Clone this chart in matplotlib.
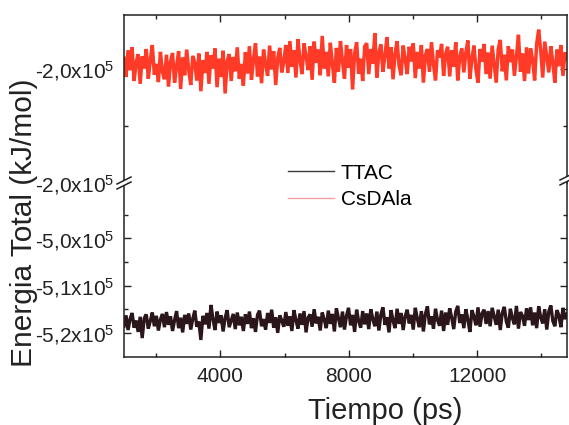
import numpy as np
import matplotlib
matplotlib.use('Agg')
import matplotlib.pyplot as plt
from matplotlib.lines import Line2D
from matplotlib.patches import Rectangle
from matplotlib.ticker import FixedLocator, FixedFormatter

plt.rcParams['font.family'] = ['Liberation Sans', 'DejaVu Sans']
plt.rcParams['mathtext.fontset'] = 'custom'
plt.rcParams['mathtext.rm'] = 'Liberation Sans'
plt.rcParams['mathtext.it'] = 'Liberation Sans:italic'
plt.rcParams['mathtext.bf'] = 'Liberation Sans:bold'

# ---------------- data ----------------
t_start, t_end = 1000, 14800          # Tiempo (ps)

csdala_mean = -199930                  # kJ/mol
csdala_fluct = [
    120, -210, 260, -90, 310, -280, 40, 190, -330, 150, -60, 280, -240, 90, 350, -170, 20, -300, 230, -120,
    -250, 180, -380, 60, 210, -310, -20, 240, -420, 130, -180, 270, -90, -350, 160, 40, -270, 200, -460, 80,
    -140, 230, -330, 170, -60, 290, -390, 110, -210, 250, -500, 70, 190, -280, 140, -110, 310, -240, 20, -360,
    220, -150, 330, -260, 90, 380, -200, 150, -320, 270, 10, -190, 340, -80, 240, -350, 120, 300, -130, 60,
    350, -140, 420, -30, 260, -220, 450, 90, -160, 380, 160, -90, 330, -260, 410, 40, 270, -180, 510, -60,
    230, -200, 390, 20, -310, 300, -120, 420, 60, -240, 350, -50, 280, -430, 200, 400, -150, 110, -280, 330,
    380, -160, 280, 20, 560, -220, 220, 360, -120, 170, 490, -60, 310, -250, 200, 420, -20, -180, 340, 100,
    -160, 320, 60, 380, -230, 230, -60, 350, -310, 170, 280, -120, 400, 10, -270, 260, 130, 370, -190, 190,
    320, -200, 260, -30, 400, -270, 150, 290, -130, 220, 430, -240, 110, 340, -80, -310, 280, 60, 370, -160,
    220, -240, 340, 10, -310, 280, 440, -110, 180, -270, 330, 50, 270, -190, 150, 530, -120, 200, -280, 310,
    -150, 290, 90, -270, 370, 620, 250, -220, 410, 140, -130, 330, 40, -310, 270, -20, 350, -190, 220, 110,
]

ttac_mean = -517700                    # kJ/mol
ttac_fluct = [
    -900, 1400, -1700, 600, 1900, -1200, 300, -2100, 1100, -3400, 800, 1600, -1400, 200, 2000, -900, 1300, -1800, 500, 1700,
    -1100, 2100, -600, 1200, -1900, 400, 2300, -1300, 900, -2200, 1500, -400, 1800, -1600, 700, 2400, -1000, 100, -3800, 1300,
    -500, 1900, -1400, 3600, 600, -1700, 2200, -200, 1400, -2000, 900, 2500, -1100, 300, 1700, -1500, 2000, -700, 1100, -1900,
    1600, -400, 2200, -1300, 800, -2100, 1500, 2400, -900, 600, -1600, 1900, -200, 2600, -1200, 1000, -2300, 1400, 300, -1000,
    2100, -800, 1200, -1900, 2500, 400, -1400, 1800, -600, 2300, -2200, 900, 1600, -1000, 2700, -300, 1100, -1800, 2000, 500,
    -1300, 2400, -400, 1700, -2000, 2900, 800, -1100, 2200, -1600, 1300, 3000, -700, 1500, -2100, 2600, 200, -1200, 2300, -500,
    1800, -1500, 2700, 600, -900, 2200, -1800, 1600, 3100, -600, 1000, -2200, 2500, 300, -1300, 2800, -400, 1900, -1700, 1200,
    2600, -300, 1500, -1600, 3000, 700, -1100, 2300, -2000, 1700, 3300, -500, 1200, -1400, 2800, 400, -800, 2400, -1900, 2000,
    -600, 2900, 900, -1500, 2200, 3400, -200, 1600, -1300, 2700, 500, -2100, 2500, 1100, -700, 3100, -1000, 1800, 2600, -400,
    2300, -900, 3000, 1200, -600, 2600, -1700, 1900, 3200, 100, -1200, 2800, 800, -500, 3400, -1400, 2100, 1300, -800, 2900,
    400, 3100, -700, 2000, -1300, 3300, 1000, -300, 2700, -1600, 2200, 3500, 200, -900, 2500, 1400, -1100, 3000, 600, 1700,
]

series_names = ['TTAC', 'CsDAla']

x_major = [4000, 8000, 12000]
x_minor = [2000, 6000, 10000, 14000]
top_ticks = [-202000, -200000]
top_labels = ['-2,0x10$^5$', '-2,0x10$^5$']
top_minor = [-201000]
top_ylim = (-202000, -199053)
bot_ticks = [-520000, -510000, -500000]
bot_labels = ['-5,2x10$^5$', '-5,1x10$^5$', '-5,0x10$^5$']
bot_minor = [-515000, -505000, -495000]
bot_ylim = (-525106, -488298)

# ---------------- figure ----------------
W, H = 569, 425
fig = plt.figure(figsize=(W / 100, H / 100), dpi=100)
L, R, T, B, BRK = 124, 567, 15, 357, 183
ax_top = fig.add_axes([L / W, 1 - BRK / H, (R - L) / W, (BRK - T) / H])
ax_bot = fig.add_axes([L / W, 1 - B / H, (R - L) / W, (B - BRK) / H])

red = '#ff3a26'
blk = '#2a161b'
t_red = np.linspace(t_start, t_end, len(csdala_fluct))
t_blk = np.linspace(t_start, t_end, len(ttac_fluct))
ax_top.plot(t_red, csdala_mean + np.array(csdala_fluct), color=red, lw=2.5,
            solid_joinstyle='bevel')
ax_bot.plot(t_blk, ttac_mean + np.array(ttac_fluct), color=blk, lw=2.4,
            solid_joinstyle='bevel')

for ax in (ax_top, ax_bot):
    ax.set_xlim(t_start, t_end)
    ax.xaxis.set_major_locator(FixedLocator(x_major))
    ax.xaxis.set_minor_locator(FixedLocator(x_minor))
    ax.tick_params(which='both', direction='in', top=True, right=True, width=1.0,
                   labelsize=15, pad=7, colors='#222222')
    ax.tick_params(which='major', length=5)
    ax.tick_params(which='minor', length=3)
    for s in ax.spines.values():
        s.set_linewidth(1.1)
        s.set_color('#222222')

ax_top.set_ylim(*top_ylim)
ax_top.yaxis.set_major_locator(FixedLocator(top_ticks))
ax_top.yaxis.set_major_formatter(FixedFormatter(top_labels))
ax_top.yaxis.set_minor_locator(FixedLocator(top_minor))
ax_top.spines['bottom'].set_visible(False)
ax_top.tick_params(axis='x', which='both', bottom=False, labelbottom=False)

ax_bot.set_ylim(*bot_ylim)
ax_bot.yaxis.set_major_locator(FixedLocator(bot_ticks))
ax_bot.yaxis.set_major_formatter(FixedFormatter(bot_labels))
ax_bot.yaxis.set_minor_locator(FixedLocator(bot_minor))
ax_bot.spines['top'].set_visible(False)
ax_bot.tick_params(axis='x', which='both', top=False)

# break marks
def brk(xc, yc):
    fig.patches.append(Rectangle(((xc - 3) / W, 1 - (yc + 2.5) / H), 6 / W, 5 / H,
                                 transform=fig.transFigure, facecolor='white',
                                 edgecolor='none', zorder=10))
    for dy in (-2.5, 2.5):
        fig.lines.append(Line2D([(xc - 7) / W, (xc + 7) / W],
                                [1 - (yc + dy + 3.5) / H, 1 - (yc + dy - 3.5) / H],
                                transform=fig.transFigure, color='#222222', lw=1.1, zorder=11))

brk(L, BRK)
brk(R, BRK - 4)

# legend
handles = [Line2D([], [], color='#3a3a3a', lw=1.0), Line2D([], [], color='#f2a3a3', lw=1.0)]
fig.legend(handles, series_names, loc='upper left', bbox_to_anchor=(269 / W, 1 - 145 / H),
           frameon=False, fontsize=15, handlelength=2.2, handletextpad=0.35, labelspacing=0.35,
           borderpad=0.4)

fig.text(385 / W, 1 - 411 / H, 'Tiempo (ps)', ha='center', va='center', fontsize=21, color='#222222')
fig.text(24 / W, 1 - 223 / H, 'Energia Total (kJ/mol)', ha='center', va='center',
         rotation=90, fontsize=21.5, color='#222222')

fig.savefig('out.png', dpi=100)
